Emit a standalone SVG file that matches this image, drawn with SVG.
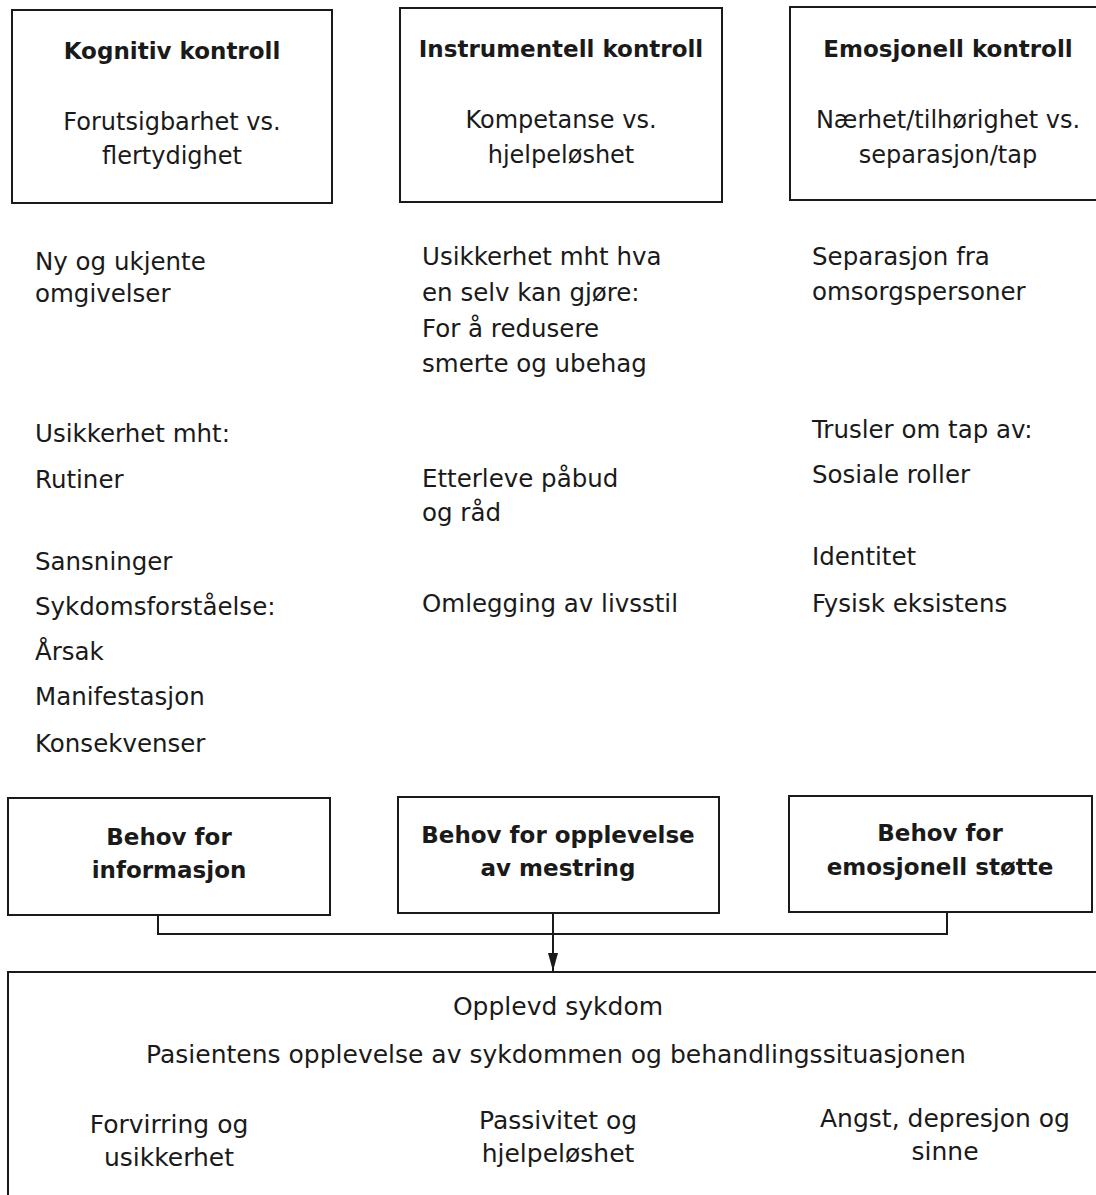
<svg xmlns="http://www.w3.org/2000/svg" width="1096" height="1195" viewBox="0 0 1096 1195">
<style>
  .box { fill: #ffffff; stroke: #1a1a1a; stroke-width: 2; }
  .ln { fill: none; stroke: #1a1a1a; stroke-width: 2; }
  text { font-family: "DejaVu Sans", "Liberation Sans", sans-serif; fill: #1a1a1a; }
  .t { font-size: 23px; font-weight: bold; text-anchor: middle; }
  .c { font-size: 24px; text-anchor: middle; }
  .d { font-size: 25px; text-anchor: middle; }
  .b { font-size: 24.5px; }
</style>
<defs>
  <marker id="arr" viewBox="0 0 18 10" refX="18" refY="5" markerWidth="18" markerHeight="10" markerUnits="userSpaceOnUse" orient="auto">
    <path d="M0,0 L18,5 L0,10 Z" fill="#1a1a1a"/>
  </marker>
</defs>
<rect width="1096" height="1195" fill="#ffffff"/>

<g id="kognitiv">
  <rect class="box" x="12" y="10" width="320" height="193"/>
  <text class="t" x="172" y="59">Kognitiv kontroll</text>
  <text class="c" x="172" y="130">Forutsigbarhet vs.</text>
  <text class="c" x="172" y="164">flertydighet</text>
</g>
<g id="instrumentell">
  <rect class="box" x="400" y="8" width="322" height="194"/>
  <text class="t" x="561" y="57">Instrumentell kontroll</text>
  <text class="c" x="561" y="128">Kompetanse vs.</text>
  <text class="c" x="561" y="163">hjelpeløshet</text>
</g>
<g id="emosjonell">
  <rect class="box" x="790" y="7" width="330" height="193"/>
  <text class="t" x="948" y="57">Emosjonell kontroll</text>
  <text class="c" x="948" y="128">Nærhet/tilhørighet vs.</text>
  <text class="c" x="948" y="163">separasjon/tap</text>
</g>

<g id="kol1">
  <text class="b" x="35" y="270">Ny og ukjente</text>
  <text class="b" x="35" y="302">omgivelser</text>
  <text class="b" x="35" y="442">Usikkerhet mht:</text>
  <text class="b" x="35" y="488">Rutiner</text>
  <text class="b" x="35" y="570">Sansninger</text>
  <text class="b" x="35" y="615">Sykdomsforståelse:</text>
  <text class="b" x="35" y="660">Årsak</text>
  <text class="b" x="35" y="705">Manifestasjon</text>
  <text class="b" x="35" y="752">Konsekvenser</text>
</g>
<g id="kol2">
  <text class="b" x="422" y="265">Usikkerhet mht hva</text>
  <text class="b" x="422" y="301">en selv kan gjøre:</text>
  <text class="b" x="422" y="337">For å redusere</text>
  <text class="b" x="422" y="372">smerte og ubehag</text>
  <text class="b" x="422" y="487">Etterleve påbud</text>
  <text class="b" x="422" y="521">og råd</text>
  <text class="b" x="422" y="612">Omlegging av livsstil</text>
</g>
<g id="kol3">
  <text class="b" x="812" y="265">Separasjon fra</text>
  <text class="b" x="812" y="300">omsorgspersoner</text>
  <text class="b" x="812" y="438">Trusler om tap av:</text>
  <text class="b" x="812" y="483">Sosiale roller</text>
  <text class="b" x="812" y="565">Identitet</text>
  <text class="b" x="812" y="612">Fysisk eksistens</text>
</g>

<g id="behov-informasjon">
  <rect class="box" x="8" y="798" width="322" height="117"/>
  <text class="t" x="169" y="845">Behov for</text>
  <text class="t" x="169" y="878">informasjon</text>
</g>
<g id="behov-mestring">
  <rect class="box" x="398" y="797" width="321" height="116"/>
  <text class="t" x="558" y="843">Behov for opplevelse</text>
  <text class="t" x="558" y="876">av mestring</text>
</g>
<g id="behov-stotte">
  <rect class="box" x="789" y="796" width="303" height="116"/>
  <text class="t" x="940" y="841">Behov for</text>
  <text class="t" x="940" y="875">emosjonell støtte</text>
</g>

<g id="connectors">
  <path class="ln" d="M158,915 V934 H947 V912"/>
  <path class="ln" d="M553,913 V971" marker-end="url(#arr)"/>
</g>

<g id="opplevd-sykdom">
  <rect class="box" x="8" y="972" width="1110" height="240"/>
  <text class="d" x="558" y="1015">Opplevd sykdom</text>
  <text class="d" x="556" y="1063">Pasientens opplevelse av sykdommen og behandlingssituasjonen</text>
  <text class="d" x="169" y="1133">Forvirring og</text>
  <text class="d" x="169" y="1166">usikkerhet</text>
  <text class="d" x="558" y="1129">Passivitet og</text>
  <text class="d" x="558" y="1162">hjelpeløshet</text>
  <text class="d" x="945" y="1127">Angst, depresjon og</text>
  <text class="d" x="945" y="1160">sinne</text>
</g>
</svg>
